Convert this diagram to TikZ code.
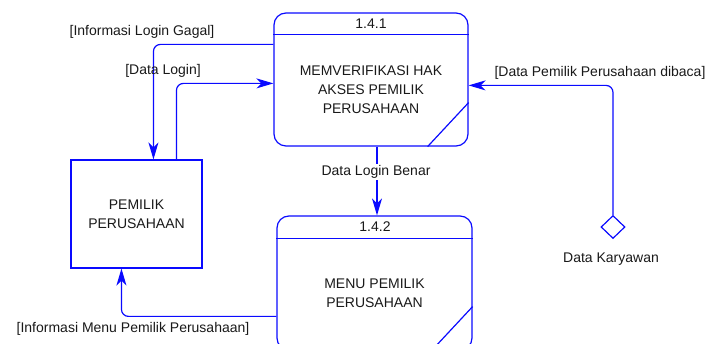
\documentclass[tikz,border=0pt]{standalone}
\usepackage{fontspec}
\setmainfont{Liberation Sans}
\usetikzlibrary{shapes.geometric,arrows.meta,calc}
\definecolor{dfd}{RGB}{10,10,255}
\definecolor{txt}{RGB}{25,25,25}
\begin{document}
\begin{tikzpicture}[x=1pt,y=-1pt,
  every node/.style={font=\fontsize{14}{19}\selectfont, text=txt},
  proc/.style={draw=dfd, line width=1.2pt, rounded corners=12pt, inner sep=0pt},
  entity/.style={draw=dfd, line width=1.1pt, inner sep=0pt, align=center},
  store/.style={draw=dfd, line width=1.2pt, diamond, inner sep=0pt, minimum width=24pt, minimum height=23pt},
  lbl/.style={inner sep=0pt, align=center},
  flow/.style={draw=dfd, line width=1.2pt, rounded corners=7pt, -{Stealth[length=17pt,width=10pt,inset=5pt]}},
  part/.style={draw=dfd, line width=1.2pt}]
\useasboundingbox (0,0) rectangle (710,344);

% processes
\node[proc, minimum width=194pt, minimum height=133pt] (p1) at (371,79.5) {};
\node[lbl] (p1n) at (371,24) {1.4.1};
\node[lbl] (p1t) at (371,90) {MEMVERIFIKASI HAK\\AKSES PEMILIK\\PERUSAHAAN};
\draw[part] ($(p1.north west)+(0,22)$) -- ($(p1.north east)+(0,22)$);
\draw[part] ($(p1.south east)+(-41,0)$) -- ($(p1.south east)+(0,-44)$);

\node[proc, minimum width=195pt, minimum height=134pt] (p2) at (374.5,283) {};
\node[lbl] (p2n) at (375,227) {1.4.2};
\node[lbl] (p2t) at (374.5,293.5) {MENU PEMILIK\\PERUSAHAAN};
\draw[part] ($(p2.north west)+(0,23)$) -- ($(p2.north east)+(0,23)$);
\draw[part] ($(p2.south east)+(-41,0)$) -- ($(p2.south east)+(0,-44)$);

% external entity
\node[entity, minimum width=131pt, minimum height=108pt] (ext) at (136.5,214) {PEMILIK\\PERUSAHAAN};

% data store
\node[store] (ds) at (613,227) {};
\node[lbl] (dsl) at (611,259) {Data Karyawan};

% flows
\draw[flow] ($(p1.north west)+(0,32)$) -| ($(ext.north west)+(83,0)$);
\node[lbl] (l1) at (142,32) {[Informasi Login Gagal]};

\draw[flow] ($(ext.north west)+(106,0)$) |- ($(p1.north west)+(0,71)$);
\node[lbl] (l2) at (163,71) {[Data Login]};

\draw[flow] (ds.north) |- ($(p1.north east)+(0,73)$);
\node[lbl] (l3) at (600,73) {[Data Pemilik Perusahaan dibaca]};

\coordinate (b1) at ($(p1.south)+(6,0)$);
\draw[flow] (b1) -- (b1 |- p2.north);
\node[lbl, fill=white, inner sep=1pt] (l4) at (376,172) {Data Login Benar};

\draw[flow] ($(p2.north west)+(0,101)$) -| ($(ext.south west)+(51,0)$);
\node[lbl] (l5) at (133,329) {[Informasi Menu Pemilik Perusahaan]};
\end{tikzpicture}
\end{document}
